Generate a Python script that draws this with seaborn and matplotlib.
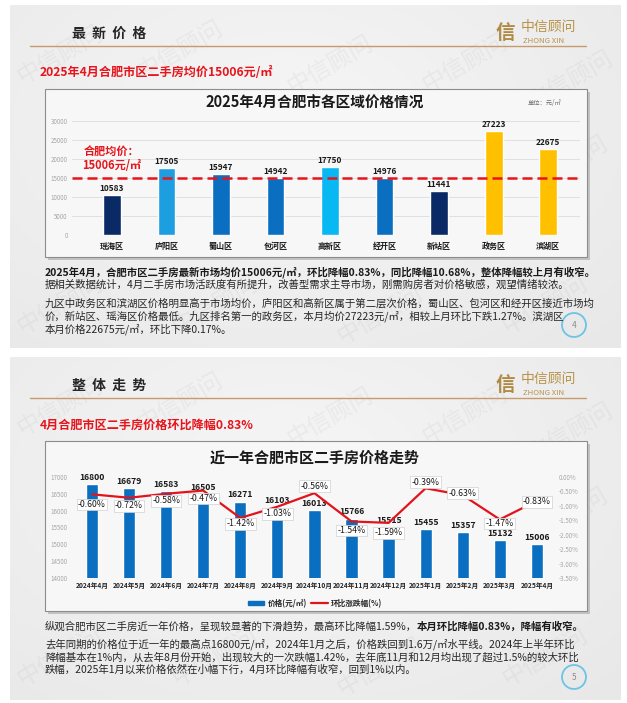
import numpy as np
import matplotlib
matplotlib.use('Agg')
import matplotlib.pyplot as plt
import matplotlib.patches as mpatches
from matplotlib.lines import Line2D
import seaborn as sns

# chart 1: district prices, April 2025
districts = ['瑶海区', '庐阳区', '蜀山区', '包河区', '高新区', '经开区', '新站区', '政务区', '滨湖区']
district_prices = [10583, 17505, 15947, 14942, 17750, 14976, 11441, 27223, 22675]
district_colors = ['#0A2A66', '#1C9EE0', '#0A6FC0', '#0A6FC0', '#08B8F2', '#0A6FC0', '#0A2A66', '#FFC000', '#FFC000']
avg_price = 15006

# chart 2: monthly price and month-on-month change
months = ['2024年4月', '2024年5月', '2024年6月', '2024年7月', '2024年8月', '2024年9月', '2024年10月',
          '2024年11月', '2024年12月', '2025年1月', '2025年2月', '2025年3月', '2025年4月']
month_prices = [16800, 16679, 16583, 16505, 16271, 16103, 16013, 15766, 15515, 15455, 15357, 15132, 15006]
month_change = [-0.60, -0.72, -0.58, -0.47, -1.42, -1.03, -0.56, -1.54, -1.59, -0.39, -0.63, -1.47, -0.83]
label_dy = [10, 8, 7, 8, 6, 7, -7, 9, 10, -6, -2, 4, 1]  # label shift in px (down)

sns.set_theme(style='white')
plt.rcParams['font.family'] = ['Noto Sans CJK SC', 'DejaVu Sans']
plt.rcParams['axes.unicode_minus'] = False

W, H = 627, 703
fig = plt.figure(figsize=(W / 100, H / 100), dpi=100)
fig.patch.set_facecolor('white')
bg = fig.add_axes([0, 0, 1, 1])
bg.set_xlim(0, W)
bg.set_ylim(H, 0)
bg.axis('off')


def px_axes(x0, y0, x1, y1):
    return fig.add_axes([x0 / W, 1 - y1 / H, (x1 - x0) / W, (y1 - y0) / H])


def slide(top, bottom, header, subtitle, page, box_bottom):
    # background gradient
    yy, xx = np.mgrid[0:1:60j, 0:1:120j]
    shade = 0.962 - 0.06 * np.sqrt(((xx - 0.45) * 1.2) ** 2 + (yy - 0.35) ** 2)
    bg.imshow(shade, cmap='gray', vmin=0, vmax=1, extent=[10, 621, bottom, top],
              aspect='auto', zorder=0, interpolation='bilinear')
    # watermarks
    for wx, wy in [(60, 50), (180, 45), (330, 60), (465, 58), (570, 75),
                   (95, 190), (260, 205), (420, 215), (565, 160),
                   (60, 300), (215, 300), (380, 310), (545, 300)]:
        bg.text(wx, top + wy, '中信顾问', rotation=30, fontsize=17, color='#9A9A9A',
                alpha=0.10, ha='center', va='center', zorder=1)
    bg.text(72, top + 29, header, fontsize=10, fontweight='bold', color='#262626',
            va='center', ha='left', zorder=3)
    bg.plot([30, 586], [top + 41, top + 41], color='#C79A6E', lw=1.0, zorder=3)
    bg.text(495, top + 29, '信', fontsize=14, fontweight='bold', color='#B08A45',
            va='center', ha='left', zorder=3)
    bg.text(521, top + 22, '中信顾问', fontsize=10, color='#B8924A', va='center', ha='left', zorder=3)
    bg.text(523, top + 36, 'ZHONG XIN', fontsize=5.6, color='#B8924A', va='center', ha='left', zorder=3)
    bg.text(40, top + 68, subtitle, fontsize=8.7, fontweight='bold', color='#E8141B',
            va='center', ha='left', zorder=3)
    # chart box with shadow
    box_top = top + 84
    bg.add_patch(mpatches.Rectangle((48, box_top + 3), 542, box_bottom - box_top,
                                    facecolor='#9A9A9A', edgecolor='none', alpha=0.5, zorder=2))
    bg.add_patch(mpatches.Rectangle((45, box_top), 542, box_bottom - box_top,
                                    facecolor='#F7F7F7', edgecolor='#8C8C8C', lw=0.8, zorder=2))
    # page number
    bg.add_patch(mpatches.Circle((574, bottom - 23), 12, facecolor='none',
                                 edgecolor='#6CC4E6', lw=1.3, zorder=3))
    bg.text(574, bottom - 23, page, fontsize=6, color='#8C8C8C', ha='center', va='center', zorder=3)


slide(5, 348, '最  新  价  格', '2025年4月合肥市区二手房均价15006元/㎡', '4', 257)
slide(357, 700, '整  体  走  势', '4月合肥市区二手房价格环比降幅0.83%', '5', 611)

# ---------- chart 1 ----------
bg.text(315, 103, '2025年4月合肥市各区域价格情况', fontsize=10.5, fontweight='bold',
        color='#1A1A1A', ha='center', va='center', zorder=3)
bg.text(545, 103, '单位：元/㎡', fontsize=4.5, color='#6E6E6E', ha='center', va='center', zorder=3)

ax1 = px_axes(72, 117, 580, 235)
ax1.set_facecolor('none')
sns.barplot(x=districts, y=district_prices, hue=districts, palette=district_colors,
            legend=False, width=0.33, saturation=1, ax=ax1, zorder=3)
ax1.set_xlim(-0.734, 8.587)
ax1.set_ylim(0, 31000)
ax1.set_yticks(range(0, 30001, 5000))
ax1.set_yticklabels([str(v) for v in range(0, 30001, 5000)], fontsize=4.5, color='#A6A6A6')
ax1.yaxis.grid(True, color='#DCDCDC', lw=0.6)
ax1.set_axisbelow(True)
for s in ax1.spines.values():
    s.set_visible(False)
ax1.tick_params(axis='both', length=0, pad=3)
ax1.tick_params(axis='x', pad=5)
for lbl in ax1.get_xticklabels():
    lbl.set_fontsize(5.8)
    lbl.set_fontweight('bold')
    lbl.set_color('#1A1A1A')
ax1.set_xlabel('')
ax1.set_ylabel('')
for i, v in enumerate(district_prices):
    ax1.annotate(str(v), (i, v), xytext=(0, 1.5), textcoords='offset points', ha='center',
                 va='bottom', fontsize=6, fontweight='bold', color='#1A1A1A', zorder=5)
ax1.axhline(avg_price, color='#E8141B', lw=1.8, ls=(0, (4, 2)), zorder=4)
ax1.annotate('合肥均价：\n15006元/㎡', (0, avg_price), xytext=(0, 4), textcoords='offset points',
             ha='center', va='bottom', fontsize=8, fontweight='bold', color='#E8141B',
             linespacing=1.1, zorder=5)

# text block 1
fs = 7.5
bg.text(45, 272, '2025年4月，合肥市区二手房最新市场均价15006元/㎡，环比降幅0.83%，同比降幅10.68%，整体降幅较上月有收窄。',
        fontsize=fs, fontweight='bold', color='#1A1A1A', va='center', zorder=3)
bg.text(45, 285, '据相关数据统计，4月二手房市场活跃度有所提升，改善型需求主导市场，刚需购房者对价格敏感，观望情绪较浓。',
        fontsize=fs, color='#262626', va='center', zorder=3)
para1 = ['九区中政务区和滨湖区价格明显高于市场均价，庐阳区和高新区属于第二层次价格，蜀山区、包河区和经开区接近市场均',
         '价，新站区、瑶海区价格最低。九区排名第一的政务区，本月均价27223元/㎡，相较上月环比下跌1.27%。滨湖区',
         '本月价格22675元/㎡，环比下降0.17%。']
for k, line in enumerate(para1):
    bg.text(45, 303 + 13 * k, line, fontsize=fs, color='#262626', va='center', zorder=3)

# ---------- chart 2 ----------
bg.text(315, 458, '近一年合肥市区二手房价格走势', fontsize=10.8, fontweight='bold',
        color='#1A1A1A', ha='center', va='center', zorder=3)

ax = px_axes(72, 477, 555, 578)
ax.set_facecolor('none')
sns.barplot(x=months, y=month_prices, color='#0A6FC0', width=0.33, saturation=1, ax=ax, zorder=3)
ax.set_ylim(14000, 17000)
ax.set_yticks(range(14000, 17001, 500))
ax.set_yticklabels([str(v) for v in range(14000, 17001, 500)], fontsize=4.5, color='#A6A6A6')
for s in ax.spines.values():
    s.set_visible(False)
ax.tick_params(axis='both', length=0, pad=3)
for lbl in ax.get_xticklabels():
    lbl.set_fontsize(4.8)
    lbl.set_fontweight('bold')
    lbl.set_color('#262626')
ax.set_xlabel('')
ax.set_ylabel('')
for i, v in enumerate(month_prices):
    ax.annotate(str(v), (i, v), xytext=(0, 1.5), textcoords='offset points', ha='center',
                va='bottom', fontsize=6.2, fontweight='bold', color='#1A1A1A', zorder=5)

ax2 = ax.twinx()
sns.lineplot(x=np.arange(len(months)), y=month_change, ax=ax2, color='#E3131B', lw=1.6, zorder=4)
ax2.set_ylim(-3.5, 0)
pct_ticks = np.arange(-3.5, 0.01, 0.5)
ax2.set_yticks(pct_ticks)
ax2.set_yticklabels([f'{abs(t):.2f}%' if abs(t) < 1e-9 else f'{t:.2f}%' for t in pct_ticks],
                    fontsize=4.5, color='#A6A6A6')
ax2.tick_params(axis='y', length=0, pad=3)
for s in ax2.spines.values():
    s.set_visible(False)
ax2.set_ylabel('')
ax.set_xlim(-0.54, 12.49)
for i, v in enumerate(month_change):
    ax2.annotate(f'{v:.2f}%', (i, v), xytext=(0, -label_dy[i] * 0.72), textcoords='offset points',
                 ha='center', va='center', fontsize=6.3, color='#1A1A1A', zorder=6,
                 bbox=dict(boxstyle='square,pad=0.15', facecolor='white', edgecolor='#D0D0D0', lw=0.5))

handles = [mpatches.Patch(color='#0A6FC0', label='价格(元/㎡)'),
           Line2D([0], [0], color='#E3131B', lw=1.6, label='环比涨跌幅(%)')]
ax.legend(handles=handles, loc='center', bbox_to_anchor=(0.503, -0.25), ncol=2, frameon=False,
          prop={'size': 5.5, 'weight': 'bold'}, handlelength=2.2, handleheight=0.6,
          columnspacing=0.6, handletextpad=0.4)

# text block 2
t1 = bg.text(45, 626, '纵观合肥市区二手房近一年价格，呈现较显著的下滑趋势，最高环比降幅1.59%，',
             fontsize=fs, color='#262626', va='center', zorder=3)
bg.annotate('本月环比降幅0.83%，降幅有收窄。', xy=(1, 0.5), xycoords=t1, ha='left', va='center',
            fontsize=fs, fontweight='bold', color='#1A1A1A', zorder=3)
para2 = ['去年同期的价格位于近一年的最高点16800元/㎡，2024年1月之后，价格跌回到1.6万/㎡水平线。2024年上半年环比',
         '降幅基本在1%内，从去年8月份开始，出现较大的一次跌幅1.42%，去年底11月和12月均出现了超过1.5%的较大环比',
         '跌幅，2025年1月以来价格依然在小幅下行，4月环比降幅有收窄，回到1%以内。']
for k, line in enumerate(para2):
    bg.text(45, 644 + 13 * k, line, fontsize=fs, color='#262626', va='center', zorder=3)

fig.savefig('out.png', dpi=100)
